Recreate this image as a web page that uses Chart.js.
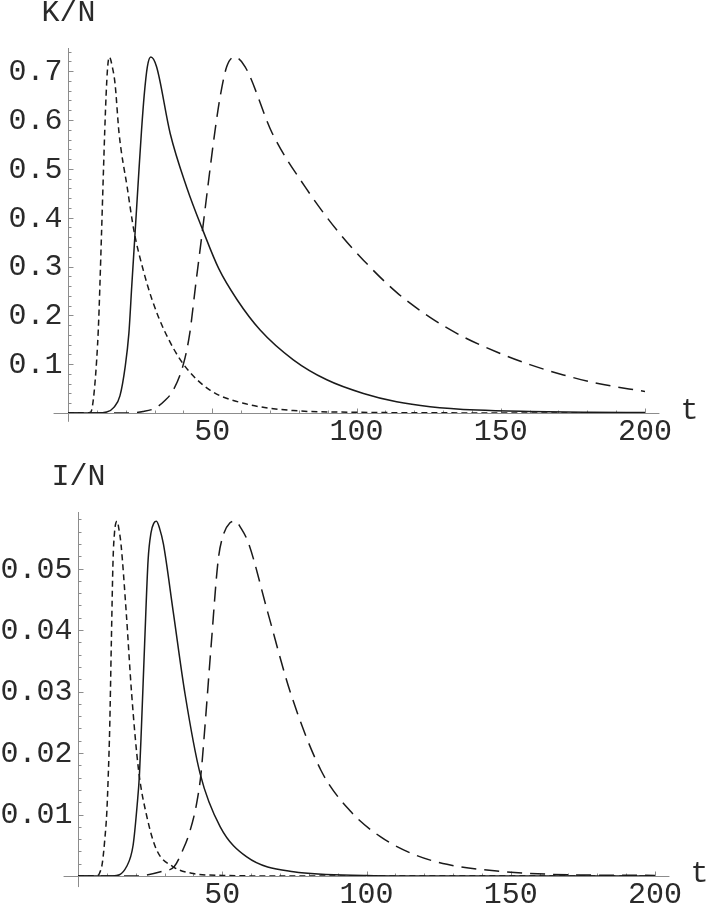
<!DOCTYPE html>
<html>
<head>
<meta charset="utf-8">
<script src="https://cdn.jsdelivr.net/npm/chart.js@4.4.1/dist/chart.umd.min.js"></script>
<style>
  body { margin: 0; background: #fff; }
  .panel { position: absolute; left: 0; }
</style>
</head>
<body>
<div class="panel" style="top:0"><canvas id="kChart" width="708" height="452"></canvas></div>
<div class="panel" style="top:452px"><canvas id="iChart" width="708" height="453"></canvas></div>
<script>
// tick labels
const tTicks = [50, 100, 150, 200];
const kTicks = [0.1, 0.2, 0.3, 0.4, 0.5, 0.6, 0.7];
const iTicks = [0.01, 0.02, 0.03, 0.04, 0.05];

// K/N
const kShortT = [0, 6.5, 7.6, 8.2, 9.4, 10.5, 11.05, 11.6, 12.3, 12.75, 13.2, 13.75, 14.35, 15.35, 16.3, 17.7, 20.5, 22.9, 26.2, 29.2, 33.3, 40.0, 49.2, 60.8, 78.1, 100, 130, 200];
const kShortV = [0, 0, 0.001, 0.006, 0.065, 0.17, 0.26, 0.364, 0.498, 0.58, 0.65, 0.709, 0.729, 0.709, 0.675, 0.573, 0.463, 0.372, 0.29, 0.231, 0.17, 0.1, 0.047, 0.02, 0.005, 0.0015, 0.0003, 0];

const kSolidT = [0, 10, 13.4, 16, 18, 19.8, 21.1, 22.1, 23.2, 24.6, 25.5, 26.4, 27.5, 28.7, 30.7, 35.4, 41.1, 46.9, 52.3, 58.5, 66.6, 78.1, 89.7, 102.4, 113.9, 125.5, 141.8, 160, 180, 200];
const kSolidV = [0, 0, 0.002, 0.012, 0.035, 0.094, 0.163, 0.26, 0.364, 0.498, 0.58, 0.65, 0.709, 0.729, 0.709, 0.573, 0.463, 0.372, 0.295, 0.233, 0.17, 0.109, 0.068, 0.040, 0.023, 0.013, 0.006, 0.003, 0.0015, 0.0008];

const kLongT = [0, 20, 26, 30.2, 33.5, 36.5, 40, 42.2, 44.2, 46.4, 49.2, 51, 52.8, 55, 57.7, 61.4, 70.8, 82.2, 93.8, 102.4, 113.9, 125.5, 137.0, 148.6, 160.1, 171.7, 183.3, 200];
const kLongV = [0, 0, 0.003, 0.01, 0.025, 0.047, 0.10, 0.163, 0.26, 0.364, 0.498, 0.58, 0.65, 0.709, 0.729, 0.709, 0.573, 0.463, 0.37, 0.313, 0.247, 0.196, 0.156, 0.125, 0.099, 0.078, 0.061, 0.044];

// I/N
const iShortT = [0, 6.5, 7.5, 8.4, 9.3, 10.0, 10.5, 11.0, 11.55, 12.15, 12.65, 13.1, 13.6, 14.15, 14.9, 16.7, 18.6, 21.0, 23.8, 27.2, 33.0, 40, 50, 70, 200];
const iShortV = [0, 0, 0.0005, 0.002, 0.006, 0.0105, 0.0165, 0.0243, 0.0378, 0.0514, 0.0558, 0.0574, 0.0577, 0.0565, 0.054, 0.043, 0.0296, 0.0172, 0.0098, 0.0043, 0.0015, 0.0004, 0.0001, 0, 0];

const iSolidT = [0, 12, 16.8, 19.1, 20.5, 21.3, 22.0, 23.1, 24.3, 25.3, 26.3, 27.2, 28.3, 29.6, 33.0, 37.1, 42.3, 49.3, 58.5, 74.7, 100, 130, 200];
const iSolidV = [0, 0, 0.0015, 0.005, 0.0115, 0.0165, 0.0243, 0.0378, 0.0514, 0.0558, 0.0574, 0.0577, 0.0565, 0.054, 0.043, 0.0296, 0.0167, 0.008, 0.0031, 0.0007, 0.0001, 0, 0];

const iLongT = [0, 20, 29.5, 33.3, 36.4, 38.6, 41.0, 42.6, 44.0, 46.2, 48.6, 50.6, 52.6, 54.4, 56.6, 59.2, 65.7, 73.8, 84.2, 94.3, 104.8, 116.5, 127.9, 145.2, 170, 200];
const iLongV = [0, 0, 0.0008, 0.0015, 0.0043, 0.007, 0.0115, 0.0165, 0.0243, 0.0378, 0.0514, 0.0558, 0.0574, 0.0577, 0.0565, 0.054, 0.043, 0.0296, 0.0172, 0.0106, 0.0064, 0.0035, 0.0019, 0.0008, 0.0002, 0.0001];

const FONT = '30px "Liberation Mono", "DejaVu Sans Mono", monospace';

function pts(ts, vs) {
    return ts.map((t, i) => ({ x: t, y: vs[i] }));
}

function line(ts, vs, dash) {
    return {
        data: pts(ts, vs),
        borderColor: '#1a1a1a',
        borderWidth: 1.5,
        borderDash: dash,
        pointRadius: 0,
        cubicInterpolationMode: 'monotone',
        fill: false
    };
}

// Mathematica style axes crossing at the origin, ticks pointing inward
const mmaAxes = {
    id: 'mmaAxes',
    beforeDatasetsDraw(chart, args, o) {
        const ctx = chart.ctx;
        const xs = chart.scales.x, ys = chart.scales.y;
        const x0 = Math.round(xs.getPixelForValue(0)) + 0.5;
        const y0 = Math.round(ys.getPixelForValue(0)) + 0.5;
        ctx.save();
        ctx.strokeStyle = '#8c8c8c';
        ctx.lineWidth = 1;
        ctx.beginPath();
        ctx.moveTo(xs.getPixelForValue(o.xFrom), y0);
        ctx.lineTo(xs.getPixelForValue(o.xTo), y0);
        ctx.moveTo(x0, ys.getPixelForValue(o.yFrom));
        ctx.lineTo(x0, ys.getPixelForValue(o.yTo));
        // x ticks
        for (let i = 1; i * o.xStep <= 200; i++) {
            const px = Math.round(xs.getPixelForValue(i * o.xStep)) + 0.5;
            const len = i % 5 === 0 ? 5 : 3;
            ctx.moveTo(px, y0);
            ctx.lineTo(px, y0 - len);
        }
        // y ticks
        for (let i = 1; i * o.yStep <= o.yTo; i++) {
            const py = Math.round(ys.getPixelForValue(i * o.yStep)) + 0.5;
            const len = i % 5 === 0 ? 5 : 3;
            ctx.moveTo(x0, py);
            ctx.lineTo(x0 + len, py);
        }
        ctx.stroke();

        ctx.fillStyle = '#2a2a2a';
        ctx.font = FONT;
        ctx.textBaseline = 'middle';
        ctx.textAlign = 'center';
        tTicks.forEach(t => ctx.fillText(String(t), xs.getPixelForValue(t), y0 + 19));
        ctx.textAlign = 'right';
        o.yLabels.forEach(v => ctx.fillText(String(v), x0 - 6, ys.getPixelForValue(v) + 1));
        ctx.textAlign = 'center';
        ctx.fillText(o.yName, x0, chart.chartArea.top - 35);
        ctx.fillText('t', xs.getPixelForValue(o.xTo) + 30, y0 - 2);
        ctx.restore();
    }
};

function makeChart(id, sets, yMax, pad, axOpts) {
    return new Chart(document.getElementById(id), {
        type: 'line',
        data: { datasets: sets },
        options: {
            responsive: false,
            animation: false,
            layout: { padding: pad },
            scales: {
                x: { type: 'linear', min: 0, max: 200, display: false },
                y: { type: 'linear', min: 0, max: yMax, display: false }
            },
            plugins: {
                legend: { display: false },
                tooltip: { enabled: false },
                mmaAxes: axOpts
            }
        },
        plugins: [mmaAxes]
    });
}

makeChart('kChart', [
    line(kShortT, kShortV, [6, 4]),
    line(kSolidT, kSolidV, []),
    line(kLongT, kLongV, [15, 8])
], 0.7475, { left: 68, right: 63, top: 48, bottom: 39 }, {
    xFrom: -5, xTo: 205, xStep: 10,
    yFrom: -0.018, yTo: 0.7475, yStep: 0.02,
    yLabels: kTicks, yName: 'K/N'
});

makeChart('iChart', [
    line(iShortT, iShortV, [6, 4]),
    line(iSolidT, iSolidV, []),
    line(iLongT, iLongV, [15, 8])
], 0.0592, { left: 78, right: 53, top: 60, bottom: 29 }, {
    xFrom: -5, xTo: 205, xStep: 10,
    yFrom: -0.0018, yTo: 0.0592, yStep: 0.002,
    yLabels: iTicks, yName: 'I/N'
});
</script>
</body>
</html>
